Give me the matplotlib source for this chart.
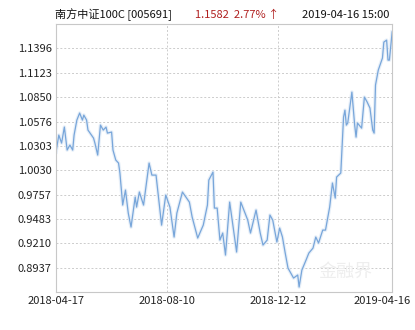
import matplotlib
matplotlib.use("Agg")
import matplotlib.pyplot as plt
import matplotlib.transforms as mtransforms
import numpy as np

plt.rcParams['font.family'] = ['Noto Sans CJK SC', 'DejaVu Sans']

# trading-day index and unit NAV
day_idx = [0, 2, 4, 6, 8, 10, 12, 13, 15, 17, 19, 20, 22, 23, 27, 28, 30, 31, 32, 34,
           36, 37, 40, 41, 43, 45, 46, 48, 50, 52, 54, 57, 58, 60, 63, 67, 69, 72, 76, 79,
           82, 85, 87, 91, 96, 98, 102, 106, 109, 110, 113, 114, 116, 118, 120, 122, 125, 127, 130, 133,
           138, 140, 144, 147, 149, 152, 154, 156, 159, 161, 163, 165, 167, 169, 171, 174, 175, 177, 180, 182,
           185, 187, 189, 192, 194, 197, 199, 201, 202, 205, 207, 208, 209, 210, 213, 215, 216, 217, 220, 222,
           224, 226, 228, 229, 230, 232, 235, 236, 238, 239, 240, 242]
nav = [1.0233, 1.0424, 1.0334, 1.0514, 1.0256, 1.0312, 1.0256, 1.0424, 1.0592, 1.0671,
       1.0592, 1.0648, 1.0592, 1.0480, 1.0390, 1.0334, 1.0200, 1.0368, 1.0536, 1.0480,
       1.0514, 1.0446, 1.0458, 1.0256, 1.0144, 1.0110, 0.9998, 0.9639, 0.9807, 0.9549,
       0.9392, 0.9729, 0.9616, 0.9785, 0.9639, 1.0110, 0.9975, 0.9975, 0.9414, 0.9751,
       0.9616, 0.9280, 0.9549, 0.9785, 0.9672, 0.9504, 0.9269, 0.9414, 0.9639, 0.9919,
       1.0009, 0.9605, 0.9605, 0.9246, 0.9325, 0.9078, 0.9672, 0.9448, 0.9112, 0.9672,
       0.9471, 0.9325, 0.9583, 0.9325, 0.9190, 0.9246, 0.9527, 0.9471, 0.9224, 0.9381,
       0.9280, 0.9100, 0.8932, 0.8876, 0.8820, 0.8854, 0.8719, 0.8910, 0.9022, 0.9100,
       0.9156, 0.9280, 0.9213, 0.9358, 0.9358, 0.9616, 0.9886, 0.9717, 0.9953, 0.9998,
       1.0626, 1.0704, 1.0536, 1.0559, 1.0906, 1.0536, 1.0401, 1.0559, 1.0502, 1.0850,
       1.0794, 1.0727, 1.0480, 1.0446, 1.0985, 1.1153, 1.1288, 1.1467, 1.1489, 1.1265,
       1.1265, 1.1582]

y_ticks = [0.8937, 0.9210, 0.9483, 0.9757, 1.0030, 1.0303, 1.0576, 1.0850, 1.1123, 1.1396]
x_tick_pos = [0, 80, 160, 242]
x_tick_labels = ["2018-04-17", "2018-08-10", "2018-12-12", "2019-04-16"]

fig = plt.figure(figsize=(4.15, 3.3), dpi=100)
ax = fig.add_axes([0.135, 0.115, 0.81, 0.812])

ax.plot(day_idx, nav, color='#dde9f6', linewidth=2.6, alpha=0.7)
ax.plot(day_idx, nav, color='#78a6da', linewidth=0.9)

ax.set_xlim(0, 242)
ax.set_ylim(0.8663, 1.1669)
ax.set_yticks(y_ticks)
ax.set_yticklabels(["%.4f" % v for v in y_ticks])
ax.set_xticks(x_tick_pos)
ax.set_xticklabels(x_tick_labels)
ax.tick_params(length=0, labelsize=8, colors='#222222', pad=3)

# last date label sits pulled in from the right edge
last = ax.get_xticklabels()[-1]
last.set_transform(last.get_transform() + mtransforms.ScaledTranslation(-10 / 100, 0, fig.dpi_scale_trans))

for v in y_ticks:
    ax.axhline(v, color='#cccccc', linestyle=(0, (2, 2)), linewidth=0.7, zorder=0)
for p in x_tick_pos[1:3]:
    ax.axvline(p, color='#cccccc', linestyle=(0, (2, 2)), linewidth=0.7, zorder=0)

for s in ax.spines.values():
    s.set_color('#c8c8c8')
    s.set_linewidth(0.8)

# faint watermark
ax.text(0.86, 0.04, "金融界", transform=ax.transAxes, fontsize=13, color='#eeeeee',
        ha='center', va='bottom', zorder=0)

fig.text(0.133, 0.955, "南方中证100C [005691]", fontsize=8, color='#111111', va='center')
fig.text(0.47, 0.955, "1.1582  2.77% ↑", fontsize=8, color='#b02020', va='center')
fig.text(0.728, 0.955, "2019-04-16 15:00", fontsize=8, color='#111111', va='center')

plt.savefig("out.png", dpi=100)
